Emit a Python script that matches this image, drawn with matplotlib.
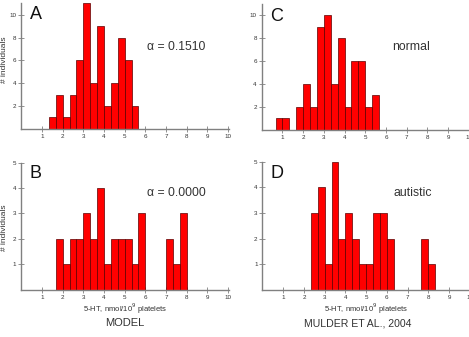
import numpy as np
import matplotlib
matplotlib.use('Agg')
import matplotlib.pyplot as plt

plt.rcParams['font.family'] = ['Liberation Sans', 'DejaVu Sans']

# histogram counts, bin width 1/3, first bin left edge given per panel
counts_a = [1, 3, 1, 3, 6, 11, 4, 9, 2, 4, 8, 6, 2]
start_a = 4 / 3
counts_b = [2, 1, 2, 2, 3, 2, 4, 1, 2, 2, 2, 1, 3, 0, 0, 0, 2, 1, 3]
start_b = 5 / 3
counts_c = [1, 1, 0, 2, 4, 2, 9, 10, 4, 8, 2, 6, 6, 2, 3]
start_c = 2 / 3
counts_d = [3, 4, 1, 5, 2, 3, 2, 1, 1, 3, 3, 2, 0, 0, 0, 0, 2, 1]
start_d = 7 / 3
bin_w = 1 / 3

letters = ['A', 'B', 'C', 'D']
notes = ['\u03b1 = 0.1510', '\u03b1 = 0.0000', 'normal', 'autistic']
xticks = list(range(1, 11))
xlabel = '5-HT, nmol/10$^9$ platelets'

grey = '#808080'
txt = '#333333'

fig = plt.figure(figsize=(4.69, 3.37), dpi=100)

# left, bottom, width, height (figure fraction)
pos = {
    'A': [0.0454, 0.618, 0.443, 0.372],
    'B': [0.0454, 0.1404, 0.443, 0.377],
    'C': [0.558, 0.615, 0.444, 0.374],
    'D': [0.5597, 0.1395, 0.444, 0.381],
}
panels = {
    'A': (counts_a, start_a, 11, [2, 4, 6, 8, 10], notes[0], (6.1, 7.2), 0.908),
    'B': (counts_b, start_b, 5, [1, 2, 3, 4, 5], notes[1], (6.1, 3.8), 0.917),
    'C': (counts_c, start_c, 11, [2, 4, 6, 8, 10], notes[2], (6.3, 7.2), 0.896),
    'D': (counts_d, start_d, 5, [1, 2, 3, 4, 5], notes[3], (6.3, 3.79), 0.91),
}

for key in letters:
    counts, start, ymax, yt, note, npos, ly = panels[key]
    ax = fig.add_axes(pos[key])
    c = np.array(counts)
    left = start + bin_w * np.arange(len(c))
    keep = c > 0
    ax.bar(left[keep], c[keep], width=bin_w, align='edge', color='#ff0000',
           edgecolor='#5a0000', linewidth=0.5, zorder=2)
    ax.set_xlim(0, 10.05)
    ax.set_ylim(0, ymax)
    ax.set_xticks(xticks)
    ax.set_yticks(yt)
    for s in ['top', 'right']:
        ax.spines[s].set_visible(False)
    for s in ['left', 'bottom']:
        ax.spines[s].set_color(grey)
        ax.spines[s].set_linewidth(1.0)
    ax.tick_params(direction='inout', length=4, width=0.6, color=grey,
                   labelsize=4.5, labelcolor=txt, pad=1.5)
    ax.text(0.04, ly, key, transform=ax.transAxes, fontsize=13,
            color='#111111', va='center', ha='left')
    ax.text(npos[0], npos[1], note, fontsize=8.8, color=txt,
            va='center', ha='left')
    if key in ('A', 'B'):
        ax.set_ylabel('# individuals', fontsize=6, color=txt)
        ax.yaxis.set_label_coords(-0.062, 0.55 if key == 'A' else 0.49)
    if key in ('B', 'D'):
        ax.set_xlabel(xlabel, fontsize=5.5, color=txt, labelpad=1.5)

fig.text(125 / 469, 1 - 323 / 337, 'MODEL', fontsize=8, color=txt,
         ha='center', va='center')
fig.text(358 / 469, 1 - 323 / 337, 'MULDER ET AL., 2004', fontsize=7.6,
         color=txt, ha='center', va='center')

fig.savefig('out.png', dpi=100)
